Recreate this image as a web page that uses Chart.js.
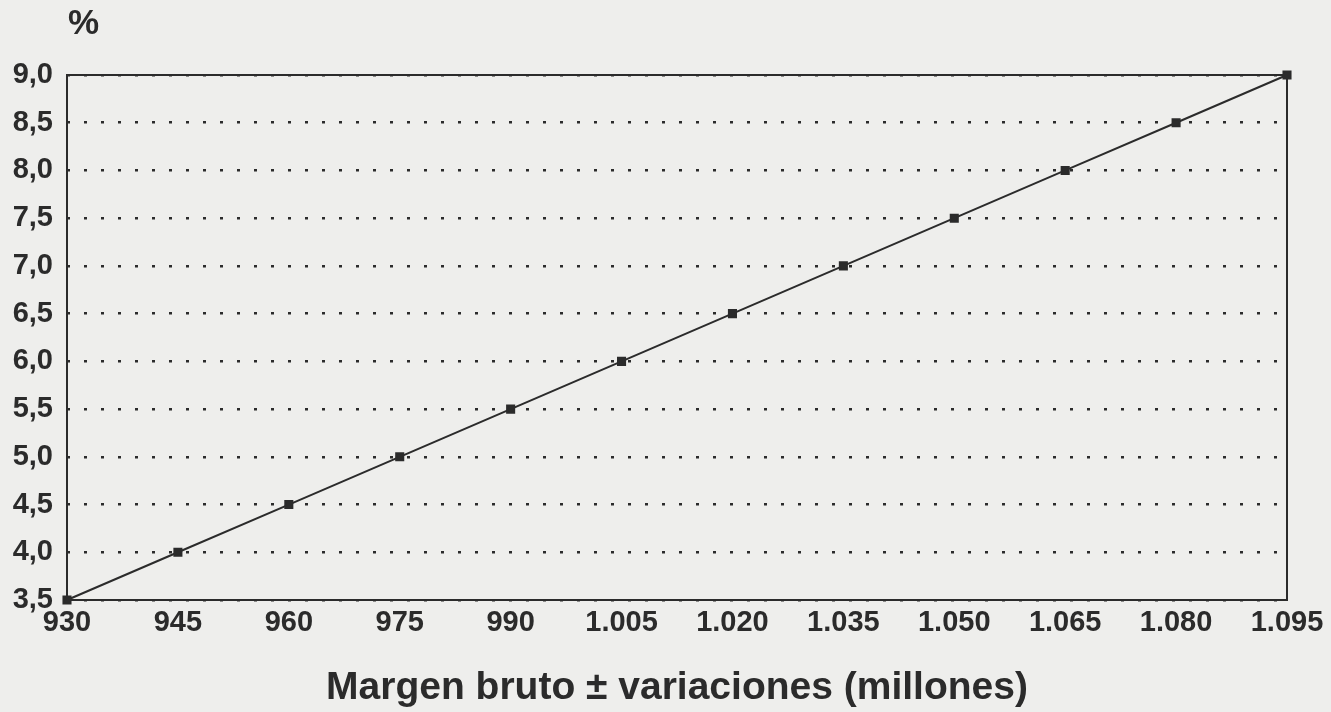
<!DOCTYPE html>
<html>
<head>
<meta charset="utf-8">
<script src="https://cdn.jsdelivr.net/npm/chart.js@4.4.1/dist/chart.umd.min.js"></script>
<style>
  html, body { margin: 0; padding: 0; background: #eeeeec; }
  #wrap { width: 1331px; height: 712px; position: relative; }
</style>
</head>
<body>
<div id="wrap"><canvas id="margenChart"></canvas></div>
<script>
// margen bruto (millones) y porcentaje de incentivo
const margenes = [930, 945, 960, 975, 990, 1005, 1020, 1035, 1050, 1065, 1080, 1095];
const porcentajes = [3.5, 4.0, 4.5, 5.0, 5.5, 6.0, 6.5, 7.0, 7.5, 8.0, 8.5, 9.0];
const yTicks = [3.5, 4.0, 4.5, 5.0, 5.5, 6.0, 6.5, 7.0, 7.5, 8.0, 8.5, 9.0];

const ink = '#2b2b2b';
const font = "'Liberation Sans', Arial, sans-serif";

const fmtMiles = v => v >= 1000 ? Math.floor(v / 1000) + '.' + String(v % 1000).padStart(3, '0') : String(v);
const fmtDec = v => v.toFixed(1).replace('.', ',');

// caja del grafico y el simbolo %
const boxPlugin = {
    id: 'box',
    afterDatasetsDraw(chart) {
        const a = chart.chartArea;
        const ctx = chart.ctx;
        ctx.save();
        ctx.strokeStyle = ink;
        ctx.lineWidth = 2;
        ctx.strokeRect(a.left, a.top, a.right - a.left, a.bottom - a.top);
        ctx.restore();
    },
    afterDraw(chart) {
        const ctx = chart.ctx;
        ctx.save();
        ctx.fillStyle = ink;
        ctx.font = 'bold 35px ' + font;
        ctx.textBaseline = 'middle';
        ctx.fillText('%', chart.chartArea.left + 1, 24);
        ctx.restore();
    }
};

new Chart(document.getElementById('margenChart'), {
    type: 'line',
    data: {
        datasets: [{
            data: margenes.map((m, i) => ({ x: m, y: porcentajes[i] })),
            borderColor: ink,
            borderWidth: 2,
            pointStyle: 'rect',
            pointRadius: 5,
            pointBackgroundColor: ink,
            pointBorderColor: ink,
            tension: 0,
            clip: false
        }]
    },
    options: {
        responsive: true,
        maintainAspectRatio: false,
        animation: false,
        layout: { padding: { top: 75, right: 44, left: 0, bottom: 0 } },
        plugins: { legend: { display: false }, tooltip: { enabled: false } },
        scales: {
            x: {
                type: 'linear',
                min: 930, max: 1095,
                afterBuildTicks: s => { s.ticks = margenes.map(v => ({ value: v })); },
                afterFit: s => { s.height = 112; },
                grid: { display: false, drawTicks: false },
                border: { display: false },
                ticks: { color: ink, font: { family: font, size: 29, weight: 'bold' }, padding: 6, maxRotation: 0, autoSkip: false, callback: v => fmtMiles(v) },
                title: { display: true, text: 'Margen bruto \u00b1 variaciones (millones)', color: ink, font: { family: font, size: 39, weight: 'bold' }, padding: { top: 24, bottom: 0 } }
            },
            y: {
                min: 3.5, max: 9.0,
                afterBuildTicks: s => { s.ticks = yTicks.map(v => ({ value: v })); },
                afterFit: s => { s.width = 67; },
                grid: { color: ink, lineWidth: 2.5, drawTicks: false },
                border: { display: false, dash: [3, 14] },
                ticks: { color: ink, font: { family: font, size: 29, weight: 'bold' }, padding: 14, callback: v => fmtDec(v) }
            }
        }
    },
    plugins: [boxPlugin]
});
</script>
</body>
</html>
